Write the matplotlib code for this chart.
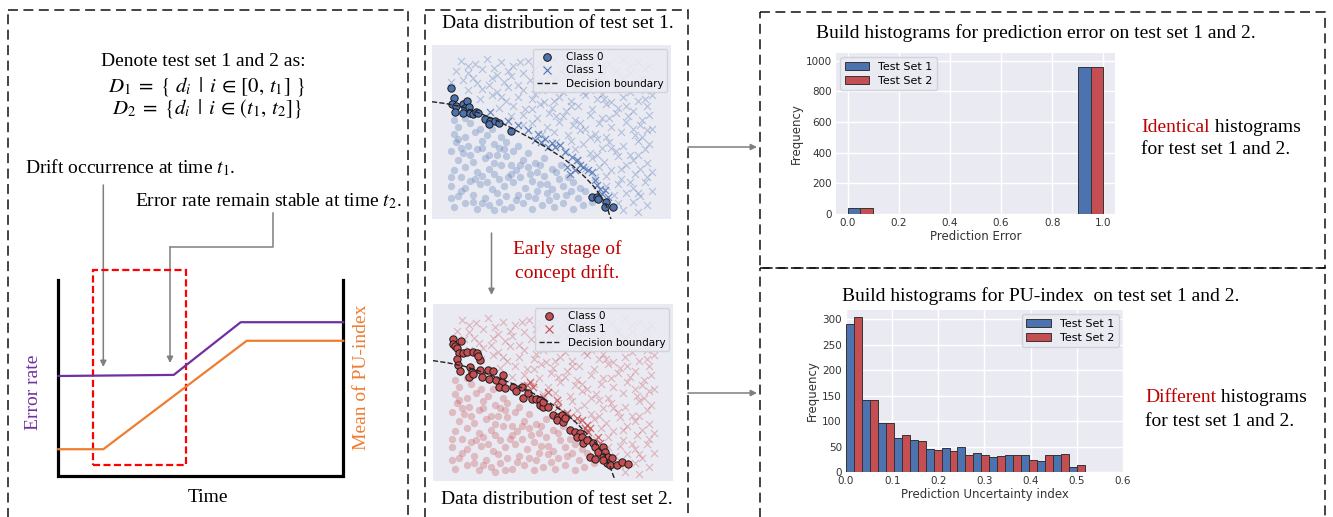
import numpy as np
import matplotlib
matplotlib.use("Agg")
import matplotlib.pyplot as plt
from matplotlib.lines import Line2D
from matplotlib.patches import Rectangle

W, H = 1333, 517
plt.rcParams['font.family'] = ['Liberation Serif', 'DejaVu Serif']
plt.rcParams['mathtext.fontset'] = 'stix'

BLUE = '#4C72B0'
RED = '#C44E52'
TXT_RED = '#C00000'
GRAY = '#7F7F7F'
SANS = ['DejaVu Sans']

# ---- schematic on the left (time axis 0..10) ----
time_err = [0, 4.05, 6.4, 10]
error_rate = [4.63, 4.68, 7.12, 7.12]
time_pu = [0, 1.58, 6.61, 10]
pu_mean = [1.24, 1.24, 6.26, 6.26]
window_t = [1.21, 4.47]
window_y = [0.51, 9.54]

# ---- scatter data, axes units 0..100 ----
bg_class0 = [(9, 7), (14, 9), (19, 6), (24, 8), (28, 10), (33, 7), (38, 9), (42, 6), (46, 8), (51, 7),
             (55, 9), (59, 6), (63, 8), (67, 10), (11, 13), (17, 14), (22, 12), (27, 15), (31, 13),
             (36, 14), (43, 12), (48, 15), (52, 13), (56, 14), (61, 12), (64, 16), (8, 19), (14, 18),
             (20, 20), (25, 17), (30, 19), (34, 21), (39, 18), (45, 20), (50, 17), (55, 19), (59, 21),
             (62, 18), (12, 24), (16, 22), (21, 25), (28, 23), (33, 26), (37, 24), (42, 22), (47, 25),
             (53, 23), (57, 24), (9, 28), (14, 30), (19, 27), (24, 29), (29, 31), (35, 28), (40, 30),
             (44, 27), (50, 29), (54, 31), (11, 34), (17, 33), (22, 35), (26, 32), (31, 36), (38, 34),
             (43, 32), (47, 35), (8, 39), (13, 38), (19, 40), (24, 37), (28, 41), (34, 39), (40, 38),
             (10, 44), (15, 42), (21, 45), (26, 43), (31, 44), (36, 42), (9, 49), (14, 47), (18, 50),
             (23, 48), (29, 47), (11, 53), (16, 55), (20, 52), (9, 57), (14, 58), (17, 10), (26, 5),
             (35, 11), (44, 16), (12, 16), (23, 21), (32, 24), (16, 37), (27, 37), (37, 31), (48, 20),
             (21, 9), (30, 6), (40, 13), (49, 11), (58, 16), (8, 12), (18, 23), (26, 26), (41, 26),
             (45, 31), (33, 31), (12, 41), (21, 41), (30, 40), (11, 46), (25, 52), (8, 24), (52, 27)]
bg_class1 = [(12, 91), (18, 89), (23, 92), (29, 90), (34, 88), (40, 91), (45, 89), (51, 92), (56, 90),
             (62, 88), (68, 91), (74, 89), (80, 92), (86, 90), (91, 88), (10, 85), (15, 84), (21, 86),
             (27, 83), (32, 85), (38, 84), (43, 86), (49, 83), (54, 85), (60, 84), (66, 86), (71, 83),
             (77, 85), (83, 84), (89, 86), (8, 79), (13, 80), (19, 78), (25, 81), (30, 79), (36, 77),
             (41, 80), (47, 78), (52, 81), (58, 79), (63, 77), (69, 80), (75, 78), (80, 81), (86, 79),
             (91, 77), (15, 74), (21, 75), (27, 73), (32, 76), (38, 74), (43, 72), (49, 75), (55, 73),
             (60, 76), (66, 74), (71, 72), (77, 75), (83, 73), (89, 74), (20, 69), (25, 71), (31, 68),
             (36, 70), (42, 69), (47, 67), (53, 70), (58, 68), (64, 71), (69, 69), (75, 67), (80, 70),
             (86, 68), (92, 71), (28, 64), (34, 65), (39, 63), (45, 66), (50, 64), (56, 62), (61, 65),
             (67, 63), (73, 66), (78, 64), (84, 62), (90, 65), (33, 59), (38, 60), (44, 58), (49, 61),
             (55, 59), (60, 57), (66, 60), (71, 58), (77, 61), (82, 59), (88, 57), (38, 54), (42, 55),
             (48, 53), (53, 56), (59, 54), (64, 52), (70, 55), (75, 53), (81, 56), (87, 54), (92, 52),
             (46, 49), (51, 50), (57, 48), (62, 51), (68, 49), (73, 47), (79, 50), (85, 48), (90, 51),
             (52, 44), (58, 45), (63, 43), (69, 46), (74, 44), (80, 42), (86, 45), (91, 43), (56, 39),
             (60, 40), (66, 38), (71, 41), (77, 39), (83, 37), (89, 40), (61, 34), (67, 35), (72, 33),
             (78, 36), (84, 34), (90, 32), (64, 29), (70, 30), (75, 28), (81, 31), (87, 29), (92, 27),
             (68, 24), (73, 25), (79, 23), (85, 26), (90, 24), (73, 19), (78, 20), (84, 18), (89, 21),
             (76, 14), (81, 15), (87, 13), (92, 16), (78, 9), (84, 10), (90, 8), (80, 5), (86, 4),
             (15, 88), (26, 87), (37, 90), (48, 87), (59, 91), (71, 88), (83, 88), (17, 81), (33, 82),
             (44, 79), (56, 82), (72, 79), (88, 81), (24, 77), (46, 74), (63, 73), (80, 76), (29, 70),
             (51, 68), (72, 69), (89, 69), (42, 63), (58, 65), (81, 65), (52, 59), (74, 58), (91, 60),
             (62, 55), (84, 52), (66, 47), (88, 47), (75, 41), (69, 37), (86, 37), (79, 29), (83, 21),
             (86, 15)]

# test set 1
near_class0_s1 = [(8.1, 75.1), (9.2, 69.4), (8.4, 66.1), (10.2, 65.0), (9.8, 61.7), (13.0, 66.1),
                  (14.8, 67.8), (13.7, 63.6), (15.4, 64.5), (13.0, 60.7), (15.8, 60.7), (17.2, 60.3),
                  (18.6, 61.7), (19.3, 60.7), (22.3, 57.2), (24.2, 56.5), (23.7, 54.5), (26.3, 56.5),
                  (27.9, 54.9), (33.0, 50.7), (66.8, 12.5), (68.9, 12.5), (69.6, 11.6), (72.6, 9.6),
                  (72.3, 6.7), (75.8, 7.1)]
near_class1_s1 = [(24.2, 61.7), (31.8, 56.5), (36.0, 53.9), (40.2, 51.1), (43.0, 45.3), (45.8, 44.3),
                  (47.2, 46.2), (51.4, 41.4), (53.5, 42.4), (55.6, 38.5), (58.4, 35.6), (60.5, 33.7),
                  (61.9, 30.8), (63.3, 29.9), (65.4, 27.9), (66.8, 27.0), (68.2, 22.2), (68.9, 19.3),
                  (70.3, 17.3), (71.0, 14.5), (72.3, 16.4), (73.7, 12.5), (59.8, 27.9), (57.7, 26.0),
                  (56.3, 29.9), (44.4, 49.1), (48.6, 41.4), (50.0, 43.4)]
boundary_s1 = [(0, 67.4), (6, 66.3), (12.3, 64.5), (19, 61.3), (26.3, 57.2), (33, 52.5), (40.2, 47.2),
               (47, 41.8), (54.2, 35.6), (59, 30.5), (64, 24.1), (68, 18.2), (71, 12.5), (73.3, 6.5),
               (75.1, -1)]

# test set 2
near_class0_s2 = [(8.5, 80.0), (8.2, 77.4), (9.2, 76.3), (9.9, 75.0), (11.5, 79.3), (11.0, 72.1),
                  (9.9, 68.7), (12.6, 72.5), (14.3, 73.1), (16.8, 73.1), (18.2, 72.1), (19.6, 68.4),
                  (18.9, 70.6), (10.6, 65.5), (11.3, 62.3), (15.4, 64.6), (16.1, 61.8), (15.1, 58.9),
                  (16.8, 60.5), (19.6, 62.7), (20.3, 58.9), (23.1, 62.7), (25.1, 62.3), (23.5, 57.6),
                  (26.3, 57.1), (28.6, 56.1), (29.3, 59.9), (27.6, 52.9), (30.0, 52.4), (33.5, 52.9),
                  (34.6, 51.0), (36.9, 53.3), (37.6, 46.7), (39.7, 49.5), (41.1, 46.1), (42.9, 46.1),
                  (44.6, 45.8), (44.6, 42.9), (46.0, 42.0), (48.1, 42.0), (46.0, 44.8), (50.1, 37.3),
                  (52.2, 36.3), (53.6, 37.3), (51.5, 34.5), (54.3, 33.5), (55.0, 35.4), (57.1, 28.8),
                  (59.2, 27.9), (61.3, 26.9), (59.9, 25.0), (61.9, 25.0), (62.6, 21.3), (64.0, 23.2),
                  (66.8, 21.3), (67.5, 19.4), (68.9, 16.6), (71.0, 19.4), (71.7, 16.6), (65.4, 13.7),
                  (67.5, 12.2), (71.0, 13.7), (73.1, 13.7), (74.4, 12.8), (72.4, 10.0), (73.8, 9.0),
                  (76.5, 9.0), (78.6, 10.9), (81.4, 9.6), (71.0, 11.9)]
near_class1_s2 = [(39.0, 54.2), (41.8, 52.9), (46.0, 47.6), (48.1, 50.5), (51.5, 45.8), (52.2, 42.0),
                  (55.7, 38.2), (57.1, 36.3), (59.9, 35.4), (61.9, 34.5), (64.0, 31.6), (65.4, 29.8),
                  (63.3, 29.8), (64.7, 27.9), (68.9, 25.0), (69.6, 21.3), (40.4, 56.1)]
boundary_s2 = [(0, 68.0), (6, 66.8), (12.6, 65.0), (19.5, 62.0), (26.5, 58.6), (33.5, 54.8), (40.4, 50.5),
               (47.5, 45.2), (54.3, 39.2), (59.5, 33.2), (64.0, 26.9), (68, 20.8), (71.0, 15.6),
               (73.8, 8.0), (75.8, 0.6)]

# ---- histograms ----
pe_edges = [0.0, 0.1, 0.2, 0.3, 0.4, 0.5, 0.6, 0.7, 0.8, 0.9, 1.0]
pe_set1 = [40, 0, 0, 0, 0, 0, 0, 0, 0, 960]
pe_set2 = [40, 0, 0, 0, 0, 0, 0, 0, 0, 960]

pu_bin_width = 0.0345
pu_set1 = [290, 142, 96, 67, 63, 46, 47, 49, 37, 29, 34, 33, 22, 34, 10]
pu_set2 = [304, 142, 96, 72, 60, 44, 41, 34, 34, 31, 34, 24, 33, 36, 14]

fig = plt.figure(figsize=(W / 100, H / 100), dpi=100)


def px_axes(x0, y0, x1, y1):
    return fig.add_axes([x0 / W, 1 - y1 / H, (x1 - x0) / W, (y1 - y0) / H])


ov = fig.add_axes([0, 0, 1, 1])
ov.set_xlim(0, W)
ov.set_ylim(H, 0)
ov.axis('off')

dash = (0, (6.5, 3.6))
for (x0, y0, x1, y1) in [(8, 10, 408, 530), (425, 10, 688, 530), (760, 12, 1325, 268), (760, 268, 1325, 530)]:
    ov.add_patch(Rectangle((x0, y0), x1 - x0, y1 - y0, fill=False, ec='#111111', lw=1.1, ls=dash))

arrow_kw = dict(arrowstyle='-|>', color=GRAY, lw=1.1, mutation_scale=9, shrinkA=0, shrinkB=0)
ov.annotate('', xy=(103.3, 367), xytext=(103.3, 185), arrowprops=arrow_kw)
ov.plot([272.7, 272.7, 170], [213, 247, 247], color=GRAY, lw=1.1)
ov.annotate('', xy=(170, 363), xytext=(170, 247), arrowprops=arrow_kw)
ov.annotate('', xy=(491.5, 295), xytext=(491.5, 233), arrowprops=arrow_kw)
ov.annotate('', xy=(757, 147), xytext=(688, 147), arrowprops=arrow_kw)
ov.annotate('', xy=(757, 393), xytext=(688, 393), arrowprops=arrow_kw)

FS = 14
ov.text(203, 62, 'Denote test set 1 and 2 as:', fontsize=FS, ha='center', va='center')
ov.text(207, 86, r'$D_1\;=\;\{\ d_i\ \,|\ \,i\,\in\,[0,\,t_1]\ \}$', fontsize=15, ha='center', va='center')
ov.text(207, 109, r'$D_2\;=\;\{d_i\ \,|\ \,i\,\in\,(t_1,\,t_2]\}$', fontsize=15, ha='center', va='center')
ov.text(25, 168, r'Drift occurrence at time $t_1$.', fontsize=FS, ha='left', va='center')
ov.text(135, 201, r'Error rate remain stable at time $t_2$.', fontsize=FS, ha='left', va='center')
ov.text(33, 392, 'Error rate', fontsize=FS, color='#7030A0', rotation=90, ha='center', va='center')
ov.text(362, 377, 'Mean of PU-index', fontsize=FS, color='#ED7D31', rotation=90, ha='center', va='center')
ov.text(208, 498, 'Time', fontsize=FS, ha='center', va='center')

ov.text(558, 23, 'Data distribution of test set 1.', fontsize=FS, ha='center', va='center')
ov.text(557, 499, 'Data distribution of test set 2.', fontsize=FS, ha='center', va='center')
ov.text(567, 249, 'Early stage of', fontsize=FS, color=TXT_RED, ha='center', va='center')
ov.text(567, 273, 'concept drift.', fontsize=FS, color=TXT_RED, ha='center', va='center')

ov.text(1036, 33, 'Build histograms for prediction error on test set 1 and 2.', fontsize=FS, ha='center', va='center')
ov.text(1041, 296, 'Build histograms for PU-index  on test set 1 and 2.', fontsize=FS, ha='center', va='center')


def two_tone(x, y, red_word, rest):
    t1 = ov.text(x, y, red_word, fontsize=FS, color=TXT_RED, ha='left', va='center')
    ov.annotate(rest, xy=(1, 0.5), xycoords=t1, fontsize=FS, ha='left', va='center')


two_tone(1141, 127, 'Identical', ' histograms')
ov.text(1141, 150, 'for test set 1 and 2.', fontsize=FS, ha='left', va='center')
two_tone(1145, 398, 'Different', ' histograms')
ov.text(1145, 422, 'for test set 1 and 2.', fontsize=FS, ha='left', va='center')

# ---- schematic plot ----
dg = px_axes(58.3, 260, 343.3, 476)
dg.set_xlim(0, 10)
dg.set_ylim(0, 10)
dg.axis('off')
dg.plot([0, 0, 10, 10], [9.07, 0, 0, 9.07], color='black', lw=2.3, solid_joinstyle='miter', clip_on=False)
dg.plot(time_err, error_rate, color='#7030A0', lw=1.6, clip_on=False)
dg.plot(time_pu, pu_mean, color='#ED7D31', lw=1.6, clip_on=False)
dg.add_patch(Rectangle((window_t[0], window_y[0]), window_t[1] - window_t[0], window_y[1] - window_y[0],
                       fill=False, ec='#FF0000', lw=1.6, ls=(0, (3.2, 1.5)), clip_on=False))


# ---- scatter panels ----
def scatter_panel(ax, color, near0, near1, boundary):
    ax.set_facecolor('#EAEAF2')
    b0 = np.array(bg_class0)
    b1 = np.array(bg_class1)
    n0 = np.array(near0)
    n1 = np.array(near1)
    bd = np.array(boundary)
    ax.scatter(b0[:, 0], b0[:, 1], s=28, color=color, alpha=0.3, linewidths=0)
    ax.scatter(b1[:, 0], b1[:, 1], s=26, marker='x', color=color, alpha=0.35, linewidths=0.8)
    ax.scatter(n1[:, 0], n1[:, 1], s=26, marker='x', color=color, alpha=0.8, linewidths=0.9)
    ax.scatter(n0[:, 0], n0[:, 1], s=28, color=color, edgecolors='#1a1a1a', linewidths=0.7)
    ax.plot(bd[:, 0], bd[:, 1], ls='--', color='#222222', lw=1.0)
    ax.set_xlim(0, 100)
    ax.set_ylim(0, 100)
    ax.set_xticks([])
    ax.set_yticks([])
    for s in ax.spines.values():
        s.set_visible(False)
    handles = [Line2D([], [], ls='', marker='o', ms=5.5, mfc=color, mec='#1a1a1a', mew=0.7),
               Line2D([], [], ls='', marker='x', ms=5.5, color=color, mew=0.8),
               Line2D([], [], ls='--', color='#222222', lw=1.0)]
    ax.legend(handles, ['Class 0', 'Class 1', 'Decision boundary'], loc='upper right',
              prop={'family': SANS, 'size': 7.5}, facecolor='#EAEAF2', edgecolor='#D0D0D8',
              framealpha=0.9, borderaxespad=0.35, handlelength=2.0, labelspacing=0.3, borderpad=0.35)


sc1 = px_axes(432, 45, 671, 219)
scatter_panel(sc1, BLUE, near_class0_s1, near_class1_s1, boundary_s1)
sc2 = px_axes(433, 304, 673, 481)
scatter_panel(sc2, RED, near_class0_s2, near_class1_s2, boundary_s2)


# ---- histogram panels ----
def style_hist(ax):
    ax.set_facecolor('#EAEAF2')
    ax.grid(True, color='white', lw=1.0)
    ax.set_axisbelow(True)
    for s in ax.spines.values():
        s.set_visible(False)
    ax.tick_params(length=0, pad=3, labelsize=7.5, colors='#333333')
    for lab in ax.get_xticklabels() + ax.get_yticklabels():
        lab.set_family(SANS)


def split_bars(ax, edges, c1, c2):
    edges = np.asarray(edges)
    left = edges[:-1]
    half = np.diff(edges) / 2
    c1 = np.asarray(c1)
    c2 = np.asarray(c2)
    m1 = c1 > 0
    m2 = c2 > 0
    ax.bar(left[m1], c1[m1], width=half[m1], align='edge', color=BLUE, edgecolor='#333333', lw=0.7,
           label='Test Set 1')
    ax.bar(left[m2] + half[m2], c2[m2], width=half[m2], align='edge', color=RED, edgecolor='#333333',
           lw=0.7, label='Test Set 2')


leg_kw = dict(prop={'family': SANS, 'size': 8}, facecolor='#EAEAF2', edgecolor='#D0D0D8',
              framealpha=0.9, borderaxespad=0.4, labelspacing=0.35, handlelength=2.2)

h1 = px_axes(836, 53, 1115, 214)
split_bars(h1, pe_edges, pe_set1, pe_set2)
h1.set_xlim(-0.045, 1.045)
h1.set_ylim(0, 1050)
h1.set_xticks([0.0, 0.2, 0.4, 0.6, 0.8, 1.0])
h1.set_yticks([0, 200, 400, 600, 800, 1000])
style_hist(h1)
h1.set_xlabel('Prediction Error', family=SANS, fontsize=8.5, color='#333333', labelpad=1)
h1.set_ylabel('Frequency', family=SANS, fontsize=8.5, color='#333333', labelpad=2)
h1.legend(loc='upper left', **leg_kw)

pu_edges = np.arange(len(pu_set1) + 1) * pu_bin_width
h2 = px_axes(846, 310, 1123, 472)
split_bars(h2, pu_edges, pu_set1, pu_set2)
h2.set_xlim(0, 0.6)
h2.set_ylim(0, 318)
h2.set_xticks([0.0, 0.1, 0.2, 0.3, 0.4, 0.5, 0.6])
h2.set_yticks([0, 50, 100, 150, 200, 250, 300])
style_hist(h2)
h2.set_xlabel('Prediction Uncertainty index', family=SANS, fontsize=8.5, color='#333333', labelpad=1)
h2.set_ylabel('Frequency', family=SANS, fontsize=8.5, color='#333333', labelpad=2)
h2.legend(loc='upper right', **leg_kw)

fig.savefig('out.png', dpi=100)
